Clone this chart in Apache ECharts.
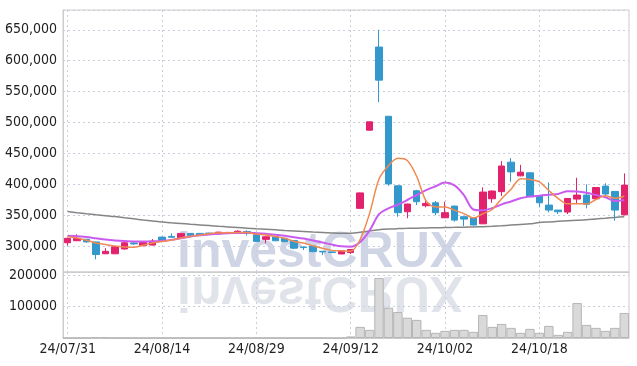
<!DOCTYPE html>
<html><head><meta charset="utf-8">
<script src="https://cdn.jsdelivr.net/npm/echarts@6/dist/echarts.min.js"></script>
<style>html,body{margin:0;padding:0;background:#fff}#c{width:637px;height:366px}</style>
</head><body><div id="c"></div>
<script>
const dates = ['24/07/31','24/08/01','24/08/02','24/08/05','24/08/06','24/08/07','24/08/08','24/08/09','24/08/12','24/08/13',
'24/08/14','24/08/16','24/08/19','24/08/20','24/08/21','24/08/22','24/08/23','24/08/26','24/08/27','24/08/28',
'24/08/29','24/08/30','24/09/02','24/09/03','24/09/04','24/09/05','24/09/06','24/09/09','24/09/10','24/09/11',
'24/09/12','24/09/13','24/09/19','24/09/20','24/09/23','24/09/24','24/09/25','24/09/26','24/09/27','24/09/30',
'24/10/02','24/10/04','24/10/07','24/10/08','24/10/10','24/10/11','24/10/14','24/10/15','24/10/16','24/10/17',
'24/10/18','24/10/21','24/10/22','24/10/23','24/10/24','24/10/25','24/10/28','24/10/29','24/10/30','24/10/31'];

const openP = [305300,308600,311000,306700,287500,287500,295200,305000,300500,301600,
314500,315600,313000,320500,320500,321000,319500,321500,322800,323500,
318500,310800,315000,312500,309000,298500,300000,291500,290500,287200,
289500,361000,487500,622000,510000,397500,355500,389500,365300,370000,
345700,364700,347500,345500,336000,376500,388000,435800,413600,418500,
381000,366300,358200,355000,376000,382500,376500,397000,388400,350500];
const closeP = [312500,312400,306700,286300,291500,298900,305300,303500,306000,308100,
307600,314200,320500,317300,317500,320000,322500,322000,324000,320500,
307500,315000,308500,307000,296500,297500,291000,290500,289500,292400,
294500,386000,501000,568500,400500,354000,368000,371700,369000,354000,
354000,342000,343600,334000,387300,389000,429500,420000,419600,381000,
370000,358200,355500,377000,382500,367500,394700,384200,358200,398600];
const lowP = [301000,308000,305500,278500,287000,287000,294500,301800,300000,301000,
306000,314000,312500,314000,316500,319500,319000,320500,321500,317000,
306500,304500,308000,306500,295000,293500,290000,285500,289000,287000,
287000,360500,487000,533000,397500,347500,345000,366300,362600,350000,
345500,339500,332300,333500,335500,370000,381000,404000,413000,380500,
362600,354500,351700,351700,368000,361000,376000,379700,341000,350000];
const highP = [313500,319000,311500,307000,296500,299500,306800,306500,306500,311300,
315000,320500,321000,321000,321000,321500,323000,323000,325600,325500,
319000,316000,315500,313000,309500,299000,300500,292000,291000,293000,
295000,386500,501500,650000,510500,398000,368500,391000,374400,373000,
371700,365000,348000,346000,395000,390000,437500,442300,431400,419500,
381500,403000,358500,377500,410500,400000,395000,401500,389000,417500];

const volume = [0,0,0,1500,1500,0,0,0,0,0,
0,0,0,0,0,0,0,0,0,0,
0,0,0,0,0,0,0,0,0,0,
5000,35500,26000,192000,96800,83000,65000,57800,26000,16500,
22800,26000,26000,19700,73600,35500,45000,32400,16500,29200,
16500,38700,10100,19700,111700,41900,32400,22800,32400,80000];

const ma5 = [315000,313000,309500,305000,302500,300000,298500,298000,301500,305000,
307500,309500,313000,315500,317500,320000,321000,321500,322000,321800,
319500,318000,315500,312500,307500,305000,300500,296500,293000,292200,
291600,310600,352700,408500,430100,442000,438400,412500,372600,363300,
363300,358100,352500,345500,352200,359200,376700,392000,409100,407800,
404000,389800,376900,368300,368600,368100,375400,381200,377400,380600];
const ma10 = [316700,316000,314500,312500,310500,309000,308000,307500,307200,307500,
308500,310000,312500,315500,317500,318800,319800,320600,321200,321500,
320800,319800,318300,316500,314400,312100,309000,305800,302400,299500,
298900,306500,325000,351500,361100,366800,374500,382600,390600,396700,
402700,398300,382500,359100,357800,361300,367400,372200,377300,380000,
381600,383200,384400,388700,388200,386100,382600,379000,372900,374600];
const ma60 = [355800,354000,352300,350700,349200,347700,345800,344000,342200,340500,
338800,337600,336500,335300,334200,333100,332000,331000,330000,329000,
328000,327100,326200,325200,324300,323400,322600,321900,321200,320600,
320800,322300,324300,326500,327600,328200,328600,329000,329300,329600,
330000,330300,330600,330900,331300,331900,332800,333900,335000,336000,
338000,339000,340000,340800,341600,342500,343800,345000,346300,347500];

const UP = '#e2226c', DOWN = '#3399cc';
const LABEL_FONT = "'Liberation Sans Narrow','DejaVu Sans Condensed','Roboto',sans-serif";
const gridLine = {show: true, lineStyle: {color: '#c9cedd', type: [2, 3], width: 1}};

const chart = echarts.init(document.getElementById('c'), null, {renderer: 'canvas'});
chart.setOption({
  animation: false,
  backgroundColor: '#fff',
  graphic: [
    {type: 'text', x: 177, y: 253.5, z: -10, silent: true,
     style: {text: 'investCRUX', font: 'bold 50px "Liberation Sans"', fill: '#cfd5e5', textVerticalAlign: 'middle'}},
    {type: 'text', x: 177, y: 290.5, scaleY: -1, z: -10, silent: true,
     style: {text: 'investCRUX', font: 'bold 50px "Liberation Sans"', fill: '#e1e3ea', textVerticalAlign: 'middle'}}
  ],
  grid: [
    {left: 63, right: 8, top: 10, height: 262, show: true, borderColor: '#cccccc', borderWidth: 1},
    {left: 63, right: 8, top: 272, height: 66, show: true, borderColor: '#cccccc', borderWidth: 1}
  ],
  xAxis: [
    {type: 'category', gridIndex: 0, data: dates, boundaryGap: true,
     axisLine: {show: true, lineStyle: {color: '#cccccc'}}, axisTick: {show: false},
     axisLabel: {show: false},
     splitLine: Object.assign({interval: 9, alignWithLabel: true}, gridLine)},
    {type: 'category', gridIndex: 1, data: dates, boundaryGap: true,
     axisLine: {show: true, lineStyle: {color: '#cccccc'}}, axisTick: {show: false},
     axisLabel: {interval: 9, color: '#222', fontFamily: LABEL_FONT, fontSize: 14, margin: 4},
     splitLine: Object.assign({interval: 9, alignWithLabel: true}, gridLine)}
  ],
  yAxis: [
    {type: 'value', gridIndex: 0, min: 258000, max: 682000, splitNumber: 8, scale: true,
     axisLine: {show: true, lineStyle: {color: '#cccccc'}}, axisTick: {show: false},
     axisLabel: {showMinLabel: false, showMaxLabel: false, color: '#222', fontFamily: LABEL_FONT, fontSize: 14, margin: 6,
                 padding: [5, 0, 0, 0]},
     splitLine: gridLine},
    {type: 'value', gridIndex: 1, min: 0, max: 211000, splitNumber: 2,
     axisLine: {show: true, lineStyle: {color: '#cccccc'}}, axisTick: {show: false},
     axisLabel: {showMinLabel: false, showMaxLabel: false, color: '#222', fontFamily: LABEL_FONT, fontSize: 14, margin: 6,
                 padding: [5, 0, 0, 0], formatter: v => String(v)},
     splitLine: gridLine}
  ],
  series: [
    {type: 'bar', xAxisIndex: 1, yAxisIndex: 1, data: volume, barWidth: '100%',
     itemStyle: {color: '#d9d9d9', borderColor: '#b5b5b5', borderWidth: 1}},
    {type: 'line', xAxisIndex: 0, yAxisIndex: 0, data: ma60, showSymbol: false, smooth: 0.3,
     lineStyle: {color: '#858585', width: 1.5}, z: 3},
    {type: 'candlestick', xAxisIndex: 0, yAxisIndex: 0, barWidth: 7,
     data: dates.map((d, i) => [openP[i], closeP[i], lowP[i], highP[i]]),
     itemStyle: {color: UP, color0: DOWN, borderColor: UP, borderColor0: DOWN, borderWidth: 1}, z: 4},
    {type: 'line', xAxisIndex: 0, yAxisIndex: 0, data: ma10, showSymbol: false, smooth: 0.3,
     lineStyle: {color: '#c95bef', width: 2}, z: 5},
    {type: 'line', xAxisIndex: 0, yAxisIndex: 0, data: ma5, showSymbol: false, smooth: 0.3,
     lineStyle: {color: '#f08a52', width: 1.5}, z: 6}
  ]
});
</script>
</body></html>
